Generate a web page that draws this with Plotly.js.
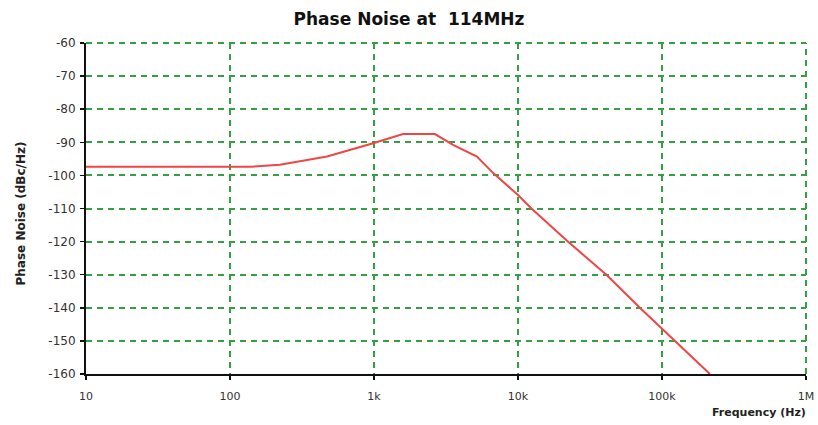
<!DOCTYPE html>
<html>
<head>
<meta charset="utf-8">
<script src="https://cdn.plot.ly/plotly-3.0.1.min.js"></script>
<style>html,body{margin:0;padding:0;background:#fff;}#chart{width:818px;height:425px;}</style>
</head>
<body>
<div id="chart"></div>
<script>
const freqHz = [10, 138, 222, 472, 1000, 1590, 2650, 3540, 5190, 6730, 10000, 12400, 22200, 41100, 70200, 123000, 215000];
const phaseNoise = [-97.4, -97.4, -96.8, -94.3, -90.2, -87.5, -87.5, -90.8, -94.3, -99.3, -105.9, -110, -120, -130, -140, -150, -160];
const xTickVals = [10, 100, 1000, 10000, 100000, 1000000];
const xTickText = ["10", "100", "1k", "10k", "100k", "1M"];
const yTickVals = [-60, -70, -80, -90, -100, -110, -120, -130, -140, -150, -160];
const yTickText = ["-60", "-70", "-80", "-90", "-100", "-110", "-120", "-130", "-140", "-150", "-160"];

const gridColor = "#35a043";
const font = "DejaVu Sans, Verdana, sans-serif";
const gridDash = "6px,5px";

const trace = {
  x: freqHz, y: phaseNoise, type: "scatter", mode: "lines",
  line: {color: "#f04545", width: 2},
  hoverinfo: "skip"
};

const layout = {
  width: 818, height: 425,
  margin: {l: 86, r: 12, t: 43, b: 51},
  paper_bgcolor: "#fff", plot_bgcolor: "#fff",
  showlegend: false,
  title: {text: "<b>Phase Noise at  114MHz</b>", x: 0.5, xanchor: "center", y: 0.955, yanchor: "middle",
          font: {family: font, size: 17, color: "#111"}},
  xaxis: {
    type: "log", range: [1, 6],
    tickvals: xTickVals, ticktext: xTickText,
    showgrid: true, gridcolor: gridColor, gridwidth: 2, griddash: gridDash,
    showline: true, linecolor: "#111", linewidth: 2,
    ticks: "outside", ticklen: 4, tickcolor: "#111", tickwidth: 1.5,
    ticklabelstandoff: 7,
    tickfont: {family: font, size: 11, color: "#333"},
    zeroline: false
  },
  yaxis: {
    range: [-160, -60],
    tickvals: yTickVals, ticktext: yTickText,
    showgrid: true, gridcolor: gridColor, gridwidth: 2, griddash: gridDash,
    showline: true, linecolor: "#111", linewidth: 2,
    ticks: "outside", ticklen: 4, tickcolor: "#111", tickwidth: 1.5,
    ticklabelstandoff: 2,
    tickfont: {family: font, size: 12, color: "#333"},
    zeroline: false
  },
  shapes: [
    {type: "line", xref: "paper", yref: "paper", x0: 0, x1: 1, y0: 1, y1: 1, layer: "below",
     line: {color: gridColor, width: 2, dash: gridDash}},
    {type: "line", xref: "paper", yref: "paper", x0: 1, x1: 1, y0: 0, y1: 1, layer: "below",
     line: {color: gridColor, width: 2, dash: gridDash}}
  ],
  annotations: [
    {text: "<b>Frequency (Hz)</b>", xref: "paper", yref: "paper", x: 1.0, y: 0, xanchor: "right", yanchor: "middle",
     yshift: -38, xshift: 2, showarrow: false, font: {family: font, size: 11, color: "#222"}},
    {text: "<b>Phase Noise (dBc/Hz)</b>", xref: "paper", yref: "paper", x: 0, y: 0.5, xanchor: "center", yanchor: "middle",
     xshift: -66, yshift: -5, textangle: -90, showarrow: false, font: {family: font, size: 12, color: "#222"}}
  ]
};

Plotly.newPlot("chart", [trace], layout, {displayModeBar: false, staticPlot: true});
</script>
</body>
</html>
